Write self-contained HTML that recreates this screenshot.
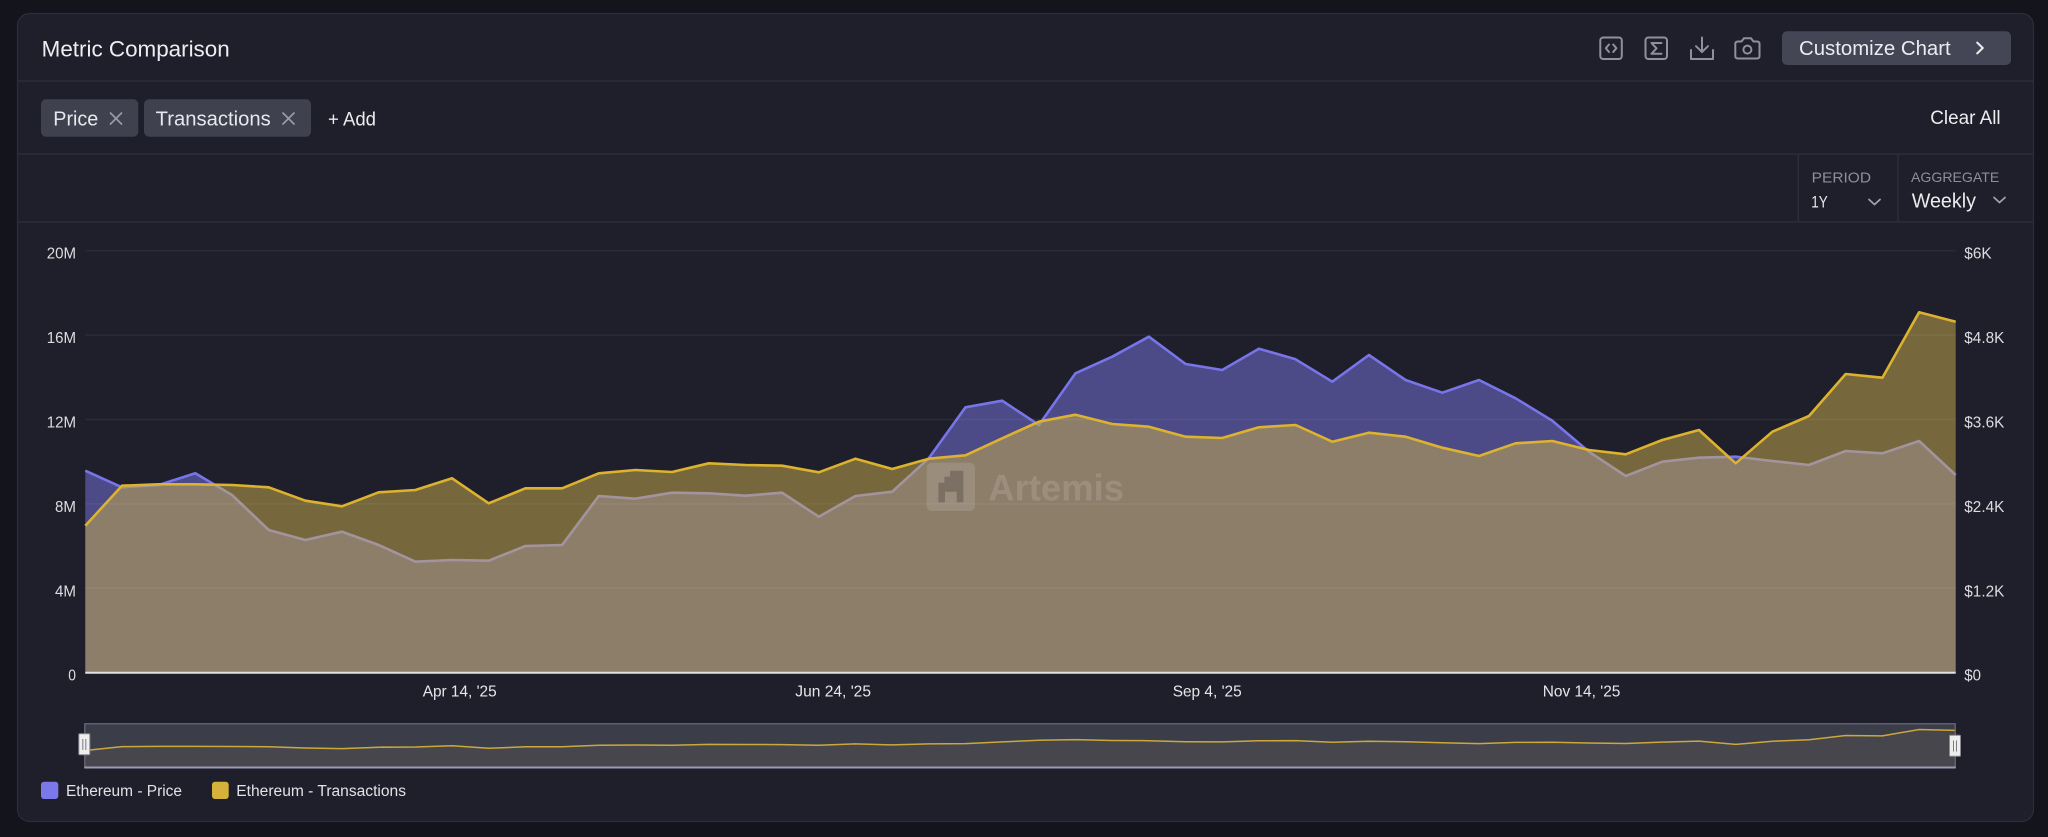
<!DOCTYPE html>
<html>
<head>
<meta charset="utf-8">
<style>
  html, body { margin:0; padding:0; background:#13141c; }
  svg { display:block; }
  text { font-family: "Liberation Sans", Arial, sans-serif; }
</style>
</head>
<body>
<svg width="2048" height="837" viewBox="0 0 2048 837" xmlns="http://www.w3.org/2000/svg">
  <rect width="2048" height="837" fill="#13141c"/>
  <!-- card -->
  <rect x="17.5" y="13.5" width="2016" height="808" rx="12" fill="#1e1f2a" stroke="#2b2d39" stroke-width="1.2"/>
  <line x1="18" y1="81" x2="2033" y2="81" stroke="#2b2d39" stroke-width="1.5"/>
  <line x1="18" y1="154" x2="2033" y2="154" stroke="#2b2d39" stroke-width="1.5"/>
  <line x1="18" y1="222" x2="2033" y2="222" stroke="#2b2d39" stroke-width="1.5"/>

  <!-- header -->
  <text x="41.7" y="56.7" font-size="22" fill="#eeeef1" textLength="188" lengthAdjust="spacingAndGlyphs">Metric Comparison</text>

  <!-- icons -->
  <g fill="none" stroke="#8f909b" stroke-width="2" stroke-linecap="round" stroke-linejoin="round">
    <rect x="1600.3" y="37.5" width="21.5" height="21.5" rx="3"/>
    <polyline points="1609,44.5 1605.8,48.2 1609,52"/>
    <polyline points="1613.2,44.5 1616.4,48.2 1613.2,52"/>
    <rect x="1645.5" y="37.5" width="21.5" height="21.5" rx="3"/>
    <polyline points="1661.5,43 1651.5,43 1656.5,48.3 1651.5,53.8 1661.5,53.8"/>
    <line x1="1702" y1="37.5" x2="1702" y2="52"/>
    <polyline points="1696,46.2 1702,52 1708,46.2"/>
    <polyline points="1691,50 1691,59 1713,59 1713,50"/>
    <path d="M1735.3,44 Q1735.3,41.5 1738,41.5 L1741.5,41.5 L1744,38.3 L1751,38.3 L1753.5,41.5 L1757,41.5 Q1759.5,41.5 1759.5,44 L1759.5,56 Q1759.5,58.5 1757,58.5 L1738,58.5 Q1735.3,58.5 1735.3,56 Z"/>
    <circle cx="1747.4" cy="49.6" r="4"/>
  </g>

  <!-- customize button -->
  <rect x="1782" y="31.3" width="229" height="33.7" rx="5" fill="#444655"/>
  <text x="1799" y="55" font-size="20" fill="#ececef" textLength="151.7" lengthAdjust="spacingAndGlyphs">Customize Chart</text>
  <polyline points="1977.2,42.6 1982.8,48 1977.2,53.4" fill="none" stroke="#ececef" stroke-width="2" stroke-linecap="round" stroke-linejoin="round"/>

  <!-- chips -->
  <rect x="41" y="99.3" width="97.3" height="37.4" rx="5" fill="#3f414f"/>
  <text x="53.3" y="125.3" font-size="20" fill="#e8e8ec" textLength="45" lengthAdjust="spacingAndGlyphs">Price</text>
  <g stroke="#9a9ba6" stroke-width="1.7" stroke-linecap="round">
    <line x1="110.5" y1="113" x2="121.5" y2="124"/><line x1="121.5" y1="113" x2="110.5" y2="124"/>
  </g>
  <rect x="144" y="99.3" width="167" height="37.4" rx="5" fill="#3f414f"/>
  <text x="155.7" y="125.3" font-size="20" fill="#e8e8ec" textLength="115" lengthAdjust="spacingAndGlyphs">Transactions</text>
  <g stroke="#9a9ba6" stroke-width="1.7" stroke-linecap="round">
    <line x1="283" y1="113" x2="294" y2="124"/><line x1="294" y1="113" x2="283" y2="124"/>
  </g>
  <text x="328" y="125.3" font-size="19" fill="#ececef" textLength="48" lengthAdjust="spacingAndGlyphs">+ Add</text>
  <text x="1930.3" y="124" font-size="19" fill="#ececef" textLength="70.3" lengthAdjust="spacingAndGlyphs">Clear All</text>

  <!-- period / aggregate -->
  <line x1="1798.3" y1="154" x2="1798.3" y2="222" stroke="#2b2d39" stroke-width="1.5"/>
  <line x1="1898" y1="154" x2="1898" y2="222" stroke="#2b2d39" stroke-width="1.5"/>
  <text x="1811.7" y="182.7" font-size="15" fill="#8d8e98" textLength="59.3" lengthAdjust="spacingAndGlyphs">PERIOD</text>
  <text x="1811.2" y="207.7" font-size="17" fill="#e8e8ec" textLength="16.5" lengthAdjust="spacingAndGlyphs">1Y</text>
  <polyline points="1869,199.5 1874.5,204.5 1880,199.5" fill="none" stroke="#a0a1aa" stroke-width="1.8" stroke-linecap="round" stroke-linejoin="round"/>
  <text x="1911" y="182" font-size="14" fill="#8d8e98" textLength="88.3" lengthAdjust="spacingAndGlyphs">AGGREGATE</text>
  <text x="1911.7" y="207.3" font-size="20" fill="#ececef" textLength="64.3" lengthAdjust="spacingAndGlyphs">Weekly</text>
  <polyline points="1994,197.5 1999.5,202.5 2005,197.5" fill="none" stroke="#a0a1aa" stroke-width="1.8" stroke-linecap="round" stroke-linejoin="round"/>

  <!-- price area -->
  <path d="M85.3,672.7 L85.3,470.7 122,487.3 158.7,485 195.3,473.3 232,495 268.7,530 305.4,540 342,531.7 378.7,545 415.4,561.7 452.1,560 488.7,560.7 525.4,546 562.1,545 598.8,496 635.4,498.7 672.1,492.7 708.8,493.3 745.5,495.7 782.1,492.7 818.8,516.7 855.5,496 892.2,491.7 928.8,458.3 965.5,407.3 1002.2,400.7 1038.9,425 1075.5,373.3 1112.2,356.7 1148.9,336.7 1185.6,364 1222.2,370 1258.9,348.7 1295.6,359.3 1332.3,381.7 1368.9,355 1405.6,380 1442.3,392.7 1479,380 1515.6,398.3 1552.3,420.7 1589,451.7 1625.7,476 1662.3,461.7 1699,457.7 1735.7,456.7 1772.4,461 1809,465 1845.7,451 1882.4,453.3 1919.1,441 1955.7,475 L1955.7,672.7 Z" fill="#4c4a87"/>
  <polyline points="85.3,470.7 122,487.3 158.7,485 195.3,473.3 232,495 268.7,530 305.4,540 342,531.7 378.7,545 415.4,561.7 452.1,560 488.7,560.7 525.4,546 562.1,545 598.8,496 635.4,498.7 672.1,492.7 708.8,493.3 745.5,495.7 782.1,492.7 818.8,516.7 855.5,496 892.2,491.7 928.8,458.3 965.5,407.3 1002.2,400.7 1038.9,425 1075.5,373.3 1112.2,356.7 1148.9,336.7 1185.6,364 1222.2,370 1258.9,348.7 1295.6,359.3 1332.3,381.7 1368.9,355 1405.6,380 1442.3,392.7 1479,380 1515.6,398.3 1552.3,420.7 1589,451.7 1625.7,476 1662.3,461.7 1699,457.7 1735.7,456.7 1772.4,461 1809,465 1845.7,451 1882.4,453.3 1919.1,441 1955.7,475" fill="none" stroke="#7874ea" stroke-width="2.6" stroke-linejoin="round"/>

  <!-- transactions area -->
  <path d="M85.3,672.7 L85.3,525.7 122,485.7 158.7,484.3 195.3,484.3 232,485 268.7,487.3 305.4,500.7 342,506.3 378.7,492.3 415.4,490 452.1,478.3 488.7,503.3 525.4,488.3 562.1,488.3 598.8,473.3 635.4,470 672.1,472 708.8,463.3 745.5,465 782.1,465.7 818.8,472.3 855.5,458.7 892.2,469 928.8,458.7 965.5,455.3 1002.2,438.3 1038.9,421.7 1075.5,414.7 1112.2,424 1148.9,426.7 1185.6,436.7 1222.2,438 1258.9,427.3 1295.6,425 1332.3,441.7 1368.9,432.7 1405.6,436.7 1442.3,447.7 1479,456 1515.6,443.3 1552.3,441 1589,450 1625.7,454.3 1662.3,440 1699,430 1735.7,463.3 1772.4,431.7 1809,416 1845.7,374 1882.4,377.7 1919.1,312.3 1955.7,321.7 L1955.7,672.7 Z" fill="rgba(206,178,77,0.5)"/>

  <!-- gridlines -->
  <g stroke="rgba(255,255,255,0.055)" stroke-width="1.5">
    <line x1="85.3" y1="250.7" x2="1955.7" y2="250.7"/>
    <line x1="85.3" y1="335.1" x2="1955.7" y2="335.1"/>
    <line x1="85.3" y1="419.5" x2="1955.7" y2="419.5"/>
    <line x1="85.3" y1="503.9" x2="1955.7" y2="503.9"/>
    <line x1="85.3" y1="588.3" x2="1955.7" y2="588.3"/>
  </g>

  <polyline points="85.3,525.7 122,485.7 158.7,484.3 195.3,484.3 232,485 268.7,487.3 305.4,500.7 342,506.3 378.7,492.3 415.4,490 452.1,478.3 488.7,503.3 525.4,488.3 562.1,488.3 598.8,473.3 635.4,470 672.1,472 708.8,463.3 745.5,465 782.1,465.7 818.8,472.3 855.5,458.7 892.2,469 928.8,458.7 965.5,455.3 1002.2,438.3 1038.9,421.7 1075.5,414.7 1112.2,424 1148.9,426.7 1185.6,436.7 1222.2,438 1258.9,427.3 1295.6,425 1332.3,441.7 1368.9,432.7 1405.6,436.7 1442.3,447.7 1479,456 1515.6,443.3 1552.3,441 1589,450 1625.7,454.3 1662.3,440 1699,430 1735.7,463.3 1772.4,431.7 1809,416 1845.7,374 1882.4,377.7 1919.1,312.3 1955.7,321.7" fill="none" stroke="#dcb22e" stroke-width="2.6" stroke-linejoin="round"/>

  <!-- watermark -->
  <rect x="926.7" y="462.7" width="48.3" height="48.3" rx="5" fill="rgba(255,255,255,0.12)"/>
  <path d="M938.4,482.7 L944.4,482.7 L944.4,476.7 L950,476.7 L950,470.7 L963.4,470.7 L963.4,502.4 L956.7,502.4 L956.7,491.7 L945,491.7 L945,502.4 L938.4,502.4 Z" fill="rgba(0,0,0,0.2)"/>
  <text x="988.3" y="500.7" font-size="37" font-weight="bold" fill="rgba(255,255,255,0.13)" textLength="135.7" lengthAdjust="spacingAndGlyphs">Artemis</text>

  <!-- zero baseline -->
  <line x1="85.3" y1="672.7" x2="1955.7" y2="672.7" stroke="#e2e2e6" stroke-width="2"/>

  <!-- left axis labels -->
  <g font-size="16" fill="#dcdce0" text-anchor="end">
    <text x="76" y="258.7" textLength="29.3" lengthAdjust="spacingAndGlyphs">20M</text>
    <text x="76" y="343.1" textLength="29.3" lengthAdjust="spacingAndGlyphs">16M</text>
    <text x="76" y="427.5" textLength="29.3" lengthAdjust="spacingAndGlyphs">12M</text>
    <text x="76" y="511.9" textLength="21" lengthAdjust="spacingAndGlyphs">8M</text>
    <text x="76" y="596.3" textLength="21" lengthAdjust="spacingAndGlyphs">4M</text>
    <text x="76" y="680.7" textLength="7.7" lengthAdjust="spacingAndGlyphs">0</text>
  </g>
  <!-- right axis labels -->
  <g font-size="16" fill="#dcdce0">
    <text x="1964.3" y="258.7" textLength="27.3" lengthAdjust="spacingAndGlyphs">$6K</text>
    <text x="1964.3" y="343.1" textLength="40" lengthAdjust="spacingAndGlyphs">$4.8K</text>
    <text x="1964.3" y="427.5" textLength="40" lengthAdjust="spacingAndGlyphs">$3.6K</text>
    <text x="1964.3" y="511.9" textLength="40" lengthAdjust="spacingAndGlyphs">$2.4K</text>
    <text x="1964.3" y="596.3" textLength="40" lengthAdjust="spacingAndGlyphs">$1.2K</text>
    <text x="1964.3" y="680.7" textLength="16.7" lengthAdjust="spacingAndGlyphs">$0</text>
  </g>
  <!-- x axis labels -->
  <g font-size="16" fill="#e6e6ea">
    <text x="422.7" y="696.7" textLength="74" lengthAdjust="spacingAndGlyphs">Apr 14, '25</text>
    <text x="795.3" y="696.7" textLength="75.7" lengthAdjust="spacingAndGlyphs">Jun 24, '25</text>
    <text x="1172.7" y="696.7" textLength="69" lengthAdjust="spacingAndGlyphs">Sep 4, '25</text>
    <text x="1542.7" y="696.7" textLength="77.7" lengthAdjust="spacingAndGlyphs">Nov 14, '25</text>
  </g>

  <!-- navigator -->
  <rect x="84.3" y="723.3" width="1871.4" height="44.7" fill="#3b3d49"/>
  <path d="M85.3,768 L85.3,750.5 122,746.6 158.7,746.4 195.3,746.4 232,746.5 268.7,746.7 305.4,748 342,748.6 378.7,747.2 415.4,747 452.1,745.8 488.7,748.3 525.4,746.8 562.1,746.8 598.8,745.3 635.4,745 672.1,745.2 708.8,744.4 745.5,744.5 782.1,744.6 818.8,745.2 855.5,743.9 892.2,744.9 928.8,743.9 965.5,743.6 1002.2,741.9 1038.9,740.3 1075.5,739.6 1112.2,740.5 1148.9,740.7 1185.6,741.7 1222.2,741.9 1258.9,740.8 1295.6,740.6 1332.3,742.2 1368.9,741.3 1405.6,741.7 1442.3,742.8 1479,743.6 1515.6,742.4 1552.3,742.2 1589,743 1625.7,743.5 1662.3,742.1 1699,741.1 1735.7,744.4 1772.4,741.2 1809,739.7 1845.7,735.5 1882.4,735.9 1919.1,729.5 1955.7,730.4 L1955.7,768 Z" fill="#47464d"/>
  <polyline points="85.3,750.5 122,746.6 158.7,746.4 195.3,746.4 232,746.5 268.7,746.7 305.4,748 342,748.6 378.7,747.2 415.4,747 452.1,745.8 488.7,748.3 525.4,746.8 562.1,746.8 598.8,745.3 635.4,745 672.1,745.2 708.8,744.4 745.5,744.5 782.1,744.6 818.8,745.2 855.5,743.9 892.2,744.9 928.8,743.9 965.5,743.6 1002.2,741.9 1038.9,740.3 1075.5,739.6 1112.2,740.5 1148.9,740.7 1185.6,741.7 1222.2,741.9 1258.9,740.8 1295.6,740.6 1332.3,742.2 1368.9,741.3 1405.6,741.7 1442.3,742.8 1479,743.6 1515.6,742.4 1552.3,742.2 1589,743 1625.7,743.5 1662.3,742.1 1699,741.1 1735.7,744.4 1772.4,741.2 1809,739.7 1845.7,735.5 1882.4,735.9 1919.1,729.5 1955.7,730.4" fill="none" stroke="#c9a93c" stroke-width="1.5" stroke-linejoin="round"/>
  <rect x="84.8" y="723.8" width="1870.4" height="43.7" fill="none" stroke="#6c6d7c" stroke-width="1.2"/>
  <line x1="84.3" y1="767.5" x2="1955.7" y2="767.5" stroke="#9b9bb8" stroke-width="2"/>
  <!-- handles -->
  <rect x="78.8" y="733.8" width="11" height="21" rx="1" fill="#eeeeee" stroke="#8a8a8e" stroke-width="1"/>
  <line x1="82.8" y1="739" x2="82.8" y2="750" stroke="#7a7a80" stroke-width="1"/>
  <line x1="85.8" y1="739" x2="85.8" y2="750" stroke="#7a7a80" stroke-width="1"/>
  <rect x="1949.5" y="735.3" width="11" height="21" rx="1" fill="#eeeeee" stroke="#8a8a8e" stroke-width="1"/>
  <line x1="1953.5" y1="740.5" x2="1953.5" y2="751.5" stroke="#7a7a80" stroke-width="1"/>
  <line x1="1956.5" y1="740.5" x2="1956.5" y2="751.5" stroke="#7a7a80" stroke-width="1"/>

  <!-- legend -->
  <rect x="41" y="781.7" width="17.3" height="17.3" rx="3" fill="#7b79e9"/>
  <text x="66" y="796" font-size="15.5" fill="#e2e2e6" textLength="116" lengthAdjust="spacingAndGlyphs">Ethereum - Price</text>
  <rect x="212" y="781.7" width="16.7" height="17.3" rx="3" fill="#d6b23a"/>
  <text x="236.3" y="796" font-size="15.5" fill="#e2e2e6" textLength="169.7" lengthAdjust="spacingAndGlyphs">Ethereum - Transactions</text>
</svg>
</body>
</html>
